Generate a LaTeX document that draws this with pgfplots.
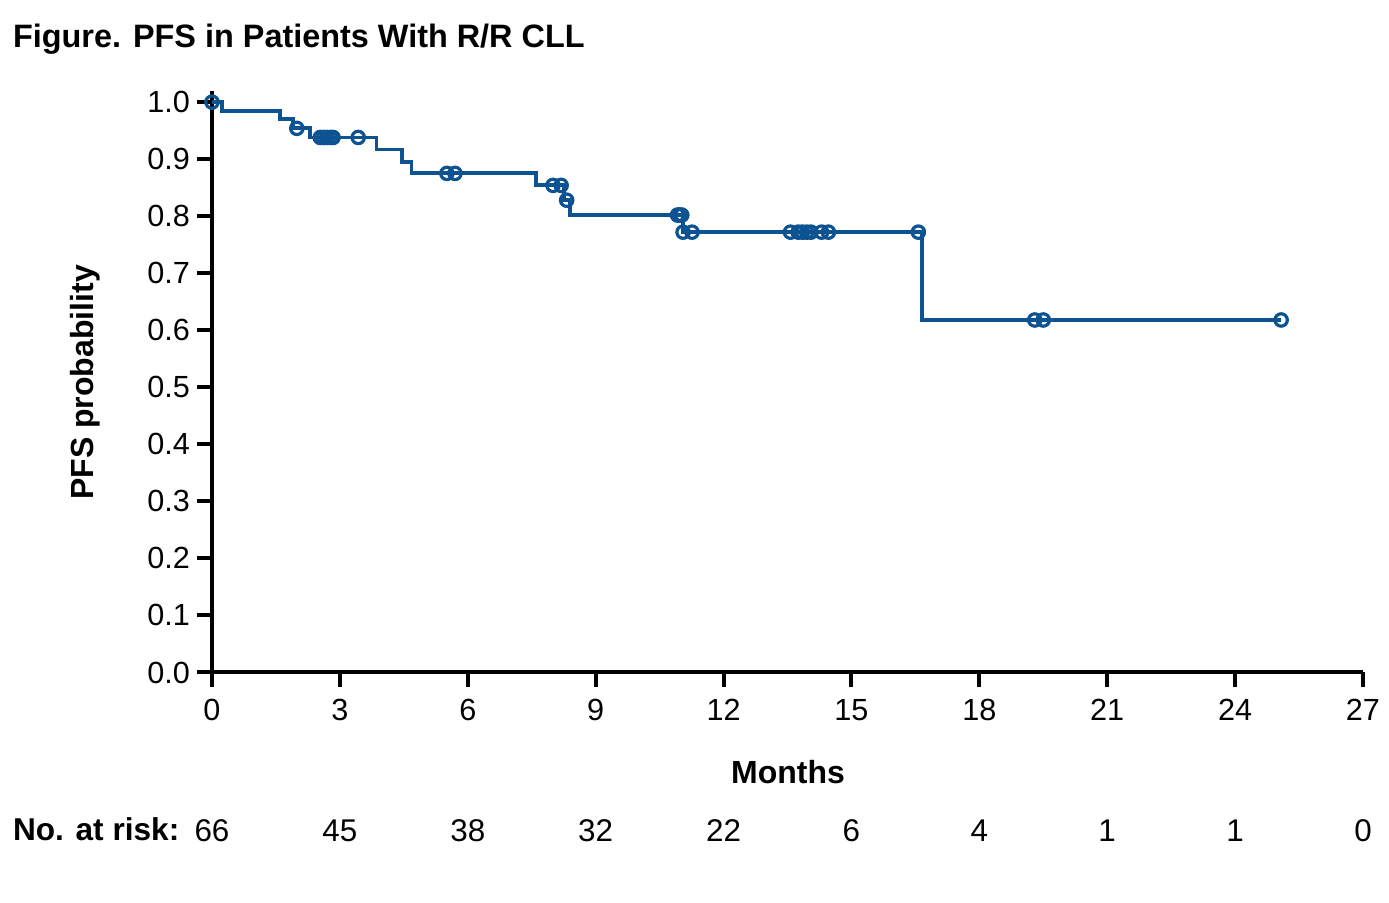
\documentclass[border=0pt]{standalone}
\usepackage{pgfplots}
\pgfplotsset{compat=1.18}
\usepackage{fontspec}
\setmainfont{Liberation Sans}
\definecolor{kmblue}{RGB}{13,82,145}
\begin{document}
\begin{tikzpicture}
\useasboundingbox (0,0) rectangle (694.5pt,451.5pt);
\begin{axis}[
  at={(106pt,115.25pt)}, anchor=south west,
  scale only axis, width=575.5pt, height=290.9pt,
  xmin=0, xmax=27, ymin=0, ymax=1.02,
  axis lines*=left,
  axis line style={line width=2pt, black},
  xtick={0,3,6,9,12,15,18,21,24,27},
  ytick={0,0.1,0.2,0.3,0.4,0.5,0.6,0.7,0.8,0.9,1.0},
  tick align=outside, major tick length=7.5pt,
  tick style={line width=2pt, black},
  /pgf/number format/assume math mode=true,
  ticklabel style={font=\fontsize{15.3}{18}\selectfont},
  yticklabel style={/pgf/number format/.cd, fixed, fixed zerofill, precision=1},
  xticklabel style={yshift=-2.5pt, /pgf/number format/.cd, fixed, precision=0},
  clip=false,
]
\addplot[const plot, kmblue, line width=1.9pt] coordinates {
(0,1.0) (0.23,0.985) (1.60,0.970) (1.90,0.954) (2.30,0.938) (3.86,0.917)
(4.45,0.895) (4.68,0.875) (7.60,0.854) (8.26,0.828) (8.40,0.802)
(11.05,0.772) (16.65,0.618) (25.08,0.618)
};
\addplot[only marks, mark=o, kmblue, mark size=3.1pt, mark options={line width=1.6pt}] coordinates {
(0,1.0) (1.99,0.954)
(2.54,0.938) (2.62,0.938) (2.70,0.938) (2.78,0.938) (2.84,0.938) (3.43,0.938)
(5.51,0.875) (5.70,0.875)
(8.00,0.854) (8.19,0.854) (8.32,0.828)
(10.92,0.802) (10.97,0.802) (11.02,0.802)
(11.05,0.772) (11.26,0.772)
(13.57,0.772) (13.75,0.772) (13.85,0.772) (13.95,0.772) (14.05,0.772) (14.30,0.772) (14.46,0.772)
(16.57,0.772)
(19.30,0.618) (19.50,0.618) (25.08,0.618)
};
\foreach \xx/\nn in {0/66,3/45,6/38,9/32,12/22,15/6,18/4,21/1,24/1,27/0} {
  \edef\tmp{\noexpand\node[anchor=base, font=\noexpand\fontsize{15.7}{18}\noexpand\selectfont] at (axis cs:\xx,-0.2956) {\nn};}
  \tmp
}
\end{axis}
\node[anchor=base west, font=\bfseries\fontsize{16.2}{19}\selectfont] at (3pt,427.5pt) {Figure. PFS in Patients With R/R CLL};
\node[anchor=base west, font=\bfseries\fontsize{15.8}{19}\selectfont] at (3pt,31pt) {No. at risk:};
\node[anchor=base, font=\bfseries\fontsize{16}{19}\selectfont] at (394pt,59.5pt) {Months};
\node[anchor=base, rotate=90, font=\bfseries\fontsize{16}{19}\selectfont] at (46.5pt,260.25pt) {PFS probability};
\end{tikzpicture}
\end{document}
